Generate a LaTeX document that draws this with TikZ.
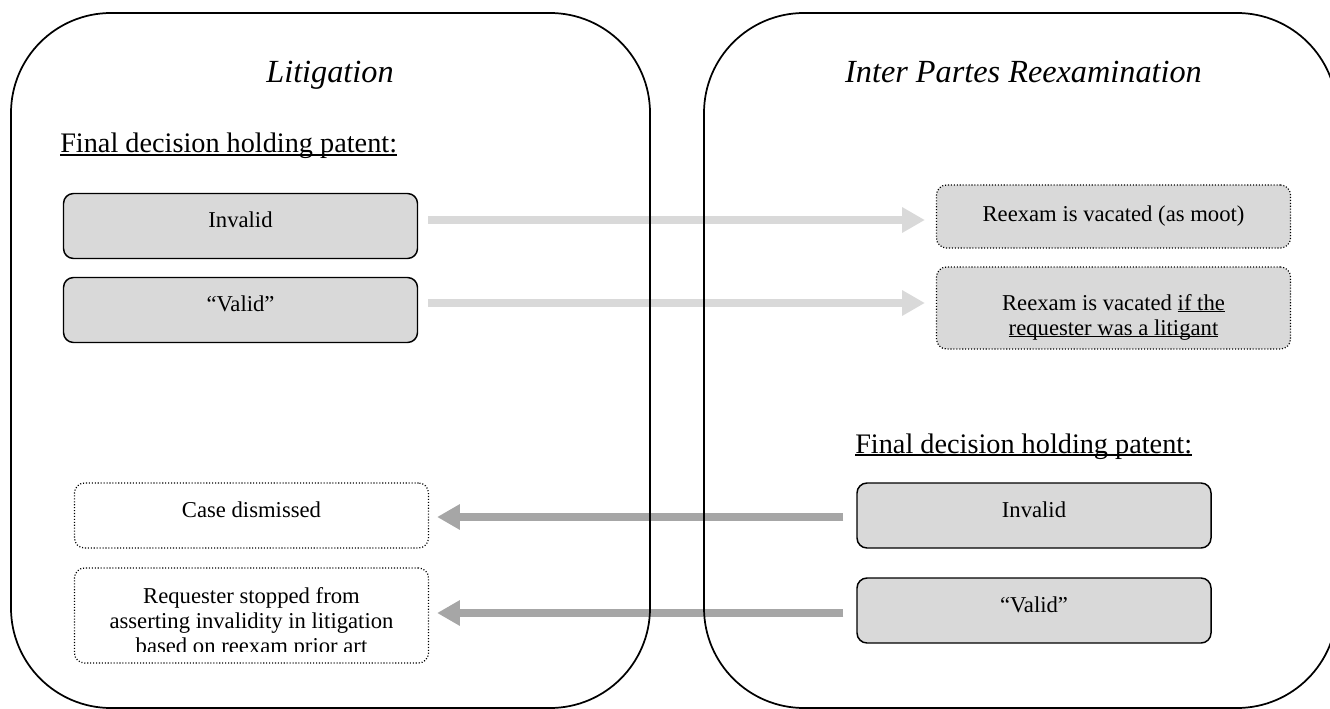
\documentclass[tikz,border=0pt]{standalone}
\usepackage{fontspec}
\setmainfont{Liberation Serif}
\usetikzlibrary{arrows.meta,calc}
\definecolor{boxgray}{HTML}{D9D9D9}
\definecolor{arrowlite}{HTML}{D9D9D9}
\definecolor{arrowdark}{HTML}{A6A6A6}
\newcommand{\wul}[1]{\setbox0=\hbox{#1}\rlap{\rule[-0.1em]{\wd0}{0.06em}}\box0}

\begin{document}
\begin{tikzpicture}[x=0.75pt, y=-0.75pt,
  panel/.style={line width=1.3pt, rounded corners=75pt},
  titletext/.style={font=\fontsize{24.2}{28}\selectfont\itshape, inner sep=0pt, anchor=base},
  headtext/.style={font=\fontsize{21.2}{25}\selectfont, inner sep=0pt, anchor=base west},
  boxtext/.style={font=\fontsize{17}{18.75}\selectfont, align=center, minimum width=265.5pt, rounded corners=7.5pt},
  solidbox/.style={boxtext, draw, line width=1.1pt, fill=boxgray, minimum height=48.75pt, text height=11.8pt, text depth=9pt},
  dotbox/.style={boxtext, draw, line width=0.9pt, dash pattern=on 0.8pt off 1.4pt},
  inside/.style={font=\fontsize{17}{18.75}\selectfont, align=center, inner sep=0pt, anchor=north},
  litearrow/.style={arrowlite, line width=6pt, -{Triangle[length=17pt,width=18pt]}},
  heavyarrow/.style={arrowdark, line width=6pt, -{Triangle[length=17pt,width=18pt]}}]
  \useasboundingbox (0,0) rectangle (1330,709);

  \node[titletext] (littitle) at (330,83) {Litigation};
  \node[titletext] (reextitle) at (1023.5,83) {Inter Partes Reexamination};
  \node[headtext] (lithead) at (60,153) {\wul{Final decision holding patent:}};
  \node[headtext] (reexhead) at (855,453) {\wul{Final decision holding patent:}};

  \node[solidbox] (linv) at (240.5,226) {Invalid};
  \node[solidbox] (lval) at (240.5,310) {``Valid''};
  \node[dotbox, fill=boxgray, minimum height=47.25pt] (moot) at (1113.5,216.5) {Reexam is vacated (as moot)};
  \node[dotbox, fill=boxgray, minimum height=61.5pt] (lit) at (1113.5,308) {};
  \node[inside] (littext) at ($(lit.north)+(0,27.5)$) {Reexam is vacated \wul{if the}\\\wul{requester was a litigant}};

  \node[solidbox] (rinv) at (1034,515.5) {Invalid};
  \node[solidbox] (rval) at (1034,610.5) {``Valid''};
  \node[dotbox, minimum height=48.75pt, text height=11.8pt, text depth=9pt] (case) at (251.5,515.5) {Case dismissed};
  \node[dotbox, minimum height=71.25pt] (req) at (251.5,615.5) {};
  \begin{scope}
    \clip ($(req.north west)+(2,2)$) rectangle ($(req.south east)+(-2,-12)$);
    \node[inside] (reqtext) at ($(req.north)+(0,20)$) {Requester stopped from\\asserting invalidity in litigation\\based on reexam prior art};
  \end{scope}

  \draw[litearrow] ($(linv.east)+(10,-6)$) -- ($(moot.west)+(-11,3.5)$);
  \draw[litearrow] ($(lval.east)+(10,-7)$) -- ($(lit.west)+(-11,-5)$);
  \draw[heavyarrow] ($(rinv.west)+(-13,1.5)$) -- ($(case.east)+(8,1.5)$);
  \draw[heavyarrow] ($(rval.west)+(-13,2.5)$) -- ($(req.east)+(8,-2.5)$);

  \draw[panel] (11,13) rectangle (650,708);
  \draw[panel] (704,13) rectangle (1337,708);
\end{tikzpicture}
\end{document}
